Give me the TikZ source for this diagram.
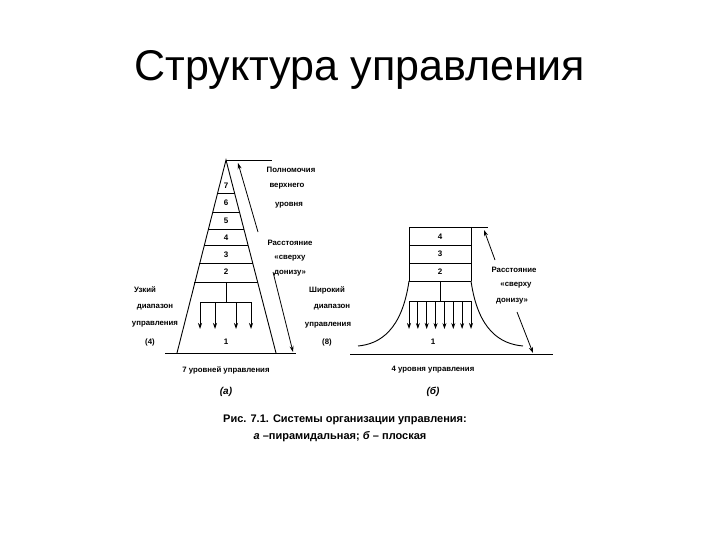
\documentclass[tikz,border=0pt]{standalone}
\usepackage{fontspec}
\setmainfont{Liberation Sans}
\usetikzlibrary{arrows.meta}
\begin{document}
\begin{tikzpicture}[x=1pt,y=-1pt,
  lbl/.style={font=\fontsize{7.8}{9}\selectfont\bfseries,inner sep=0pt},
  num/.style={font=\fontsize{8}{9}\selectfont\bfseries,inner sep=0pt},
  ln/.style={line width=0.9pt},
  arr/.style={line width=0.8pt,-{Stealth[length=6pt,width=4pt]}}]
\useasboundingbox (0,0) rectangle (720,540);
\node[font=\fontsize{43}{50}\selectfont] (title) at (360,70) {Структура управления};
% pyramid
\coordinate (apex) at (226,160);
\coordinate (bl) at (177,353);
\coordinate (br) at (276,353);
\draw[ln] (bl) -- (apex) -- (br);
\draw[ln] (apex) -- (272,160);
\draw[ln] (165,353) -- (296,353);
\foreach \y in {193,212,229,245,263,282}{
  \pgfmathsetmacro\hw{50*(\y-160)/193}
  \draw[ln] ({226-\hw},\y) -- ({226+\hw},\y);
}
\foreach \y/\t in {186/7,203/6,221/5,238/4,255/3,272/2}{\node[num] at (226,\y) {\t};}
\node[num] (p1) at (226,342) {1};
\draw[ln] (226,282) -- (226,302);
\draw[ln] (200,302) -- (251,302);
\foreach \x in {200,215,236,251}{\draw[arr] (\x,302) -- (\x,329);}
\draw[arr] (258,232) -- (238,163);
\draw[arr] (273,272) -- (293,352);
\node[lbl] at (291,170) {Полномочия};
\node[lbl] at (287,186) {верхнего};
\node[lbl] at (289,205) {уровня};
\node[lbl] at (290,243) {Расстояние};
\node[lbl] at (290,258) {«сверху};
\node[lbl] at (290,273) {донизу»};
\node[lbl] at (145,290) {Узкий};
\node[lbl] at (155,307) {диапазон};
\node[lbl] at (155,324) {управления};
\node[lbl] at (150,342) {(4)};
\node[lbl] at (327,290) {Широкий};
\node[lbl] at (332,307) {диапазон};
\node[lbl] at (328,325) {управления};
\node[lbl] at (327,342) {(8)};
\node[lbl] at (226,370) {7 уровней управления};
\node[font=\fontsize{10}{12}\selectfont\bfseries\itshape] at (226,392) {(а)};
% flat
\draw[ln] (409,227) -- (488,227);
\draw[ln] (409,227) -- (409,281);
\draw[ln] (471,227) -- (471,281);
\foreach \y in {245,263,281}{\draw[ln] (409,\y) -- (471,\y);}
\foreach \y/\t in {237/4,254/3,272/2}{\node[num] at (440,\y) {\t};}
\draw[ln] (409,281) .. controls (402,330) and (380,344) .. (358,346);
\draw[ln] (471,281) .. controls (478,330) and (500,344) .. (523,346);
\draw[ln] (350,354) -- (553,354);
\draw[ln] (440,281) -- (440,301);
\draw[ln] (409,301) -- (471,301);
\foreach \i in {0,...,7}{\draw[arr] ({409+\i*62/7},301) -- ({409+\i*62/7},329);}
\node[num] at (433,342) {1};
\draw[arr] (495,260) -- (484,230);
\draw[arr] (517,312) -- (533,353);
\node[lbl] at (514,270) {Расстояние};
\node[lbl] at (516,285) {«сверху};
\node[lbl] at (512,301) {донизу»};
\node[lbl] at (433,370) {4 уровня управления};
\node[font=\fontsize{10}{12}\selectfont\bfseries\itshape] at (433,392) {(б)};
\node[font=\fontsize{11}{13}\selectfont\bfseries] at (345,420) {Рис. 7.1. Системы организации управления:};
\node[font=\fontsize{11}{13}\selectfont\bfseries] at (340,437) {\textit{а} –пирамидальная; \textit{б} – плоская};
\end{tikzpicture}
\end{document}
